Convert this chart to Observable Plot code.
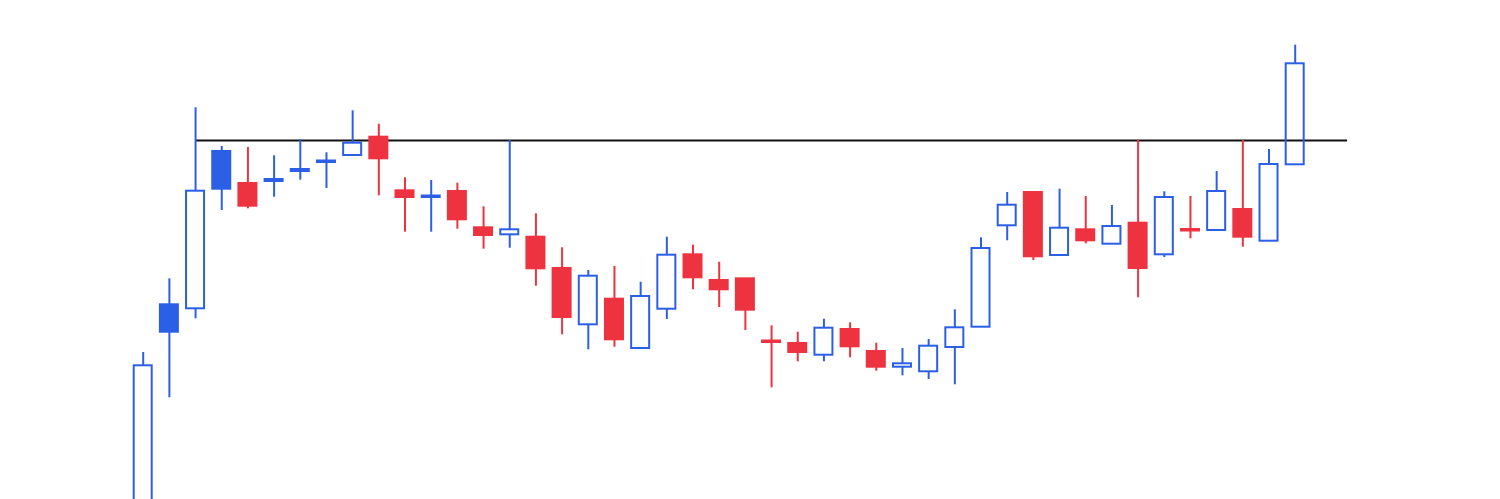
<!DOCTYPE html>
<html>
<head>
<meta charset="utf-8">
<script src="https://cdn.jsdelivr.net/npm/d3@7"></script>
<script src="https://cdn.jsdelivr.net/npm/@observablehq/plot@0.6"></script>
<style>
  html, body { margin: 0; padding: 0; background: #fff; overflow: hidden; }
  #chart svg { display: block; }
</style>
</head>
<body>
<div id="chart"></div>
<script>
// Candle prices (arbitrary units), one entry per session
const open  = [-21, 194.7, 190.7, 348, 316, 318, 328, 337, 344, 362.3, 308.7, 302, 308, 271.7, 264.7, 262.3, 231, 174.7, 200.3, 151, 190.3, 244.7, 219, 220.7, 158.5, 156, 144.3, 170, 148, 132.3, 127.7, 152, 172.3, 273.7, 307, 244, 269.7, 255.3, 276.3, 244.7, 270, 269, 290, 258.3, 334.7];
const high  = [147, 220.7, 391.7, 353, 352, 343.7, 359.7, 346.7, 388.7, 375.3, 321.7, 319, 316.3, 292.7, 359, 285.7, 251.7, 229, 233, 217.3, 262.3, 254.3, 237.3, 220.7, 173.7, 167.3, 180.3, 176.7, 156.3, 151, 160, 189.7, 261.7, 307, 307, 310.3, 303, 294, 359, 307.7, 303, 328, 359, 350, 454.3];
const low   = [-31, 101.7, 180.7, 289, 290.7, 302.3, 319.3, 311, 344, 303.7, 267.3, 267.3, 270.3, 250.3, 251.3, 213.3, 164.7, 149.7, 152.3, 151, 180, 209.7, 192, 169, 111.7, 137.7, 137.7, 141.7, 128.3, 123.7, 120, 114.7, 172.3, 258.7, 239, 244, 255.7, 255.3, 201.7, 242, 260.7, 269, 252.3, 258.3, 334.7];
const close = [133.7, 167.3, 308.3, 310.3, 293.3, 320, 330, 338.5, 356.3, 340.7, 302, 303.5, 279.7, 264, 269.7, 230.7, 182, 223.3, 159.7, 203, 244.3, 221.7, 209.7, 189.3, 157, 147, 171.3, 152.7, 132.3, 135.7, 153.3, 171.7, 251, 294.3, 242.7, 271.3, 258.7, 273, 231, 302, 268.5, 308, 262.3, 335, 435.7];

// Horizontal resistance level and its extent (in session indices)
const resistanceLevel = [359];
const resistanceFrom = [2];
const resistanceTo = [46];

const BLUE = "#2b5fe6";
const RED = "#ee3340";

const candles = open.map((o, i) => {
  const c = close[i];
  const prev = i > 0 ? close[i - 1] : -Infinity;
  const color = c >= prev ? BLUE : RED;
  const hollow = c > o;
  return {
    i, open: o, close: c, high: high[i], low: low[i],
    top: Math.max(o, c), bottom: Math.min(o, c),
    color, fill: hollow ? "none" : color
  };
});

const resistance = resistanceLevel.map((v, k) => ({level: v, from: resistanceFrom[k], to: resistanceTo[k]}));

const hw = 0.344;

const chart = Plot.plot({
  width: 1500,
  height: 499,
  marginLeft: 142.7,
  marginRight: 205.3,
  marginTop: 0,
  marginBottom: 0,
  x: {domain: [0, 44], axis: null},
  y: {domain: [0, 499], axis: null},
  color: {type: "identity"},
  style: {background: "#fff", overflow: "hidden"},
  marks: [
    Plot.ruleY(resistance, {y: "level", x1: "from", x2: "to", stroke: "#111", strokeWidth: 2}),
    Plot.ruleX(candles, {x: "i", y1: "high", y2: "top", stroke: "color", strokeWidth: 2}),
    Plot.ruleX(candles, {x: "i", y1: "bottom", y2: "low", stroke: "color", strokeWidth: 2}),
    Plot.rect(candles, {
      x1: d => d.i - hw, x2: d => d.i + hw,
      y1: "open", y2: "close",
      fill: "fill", stroke: "color", strokeWidth: 2
    })
  ]
});

document.getElementById("chart").appendChild(chart);
</script>
</body>
</html>
